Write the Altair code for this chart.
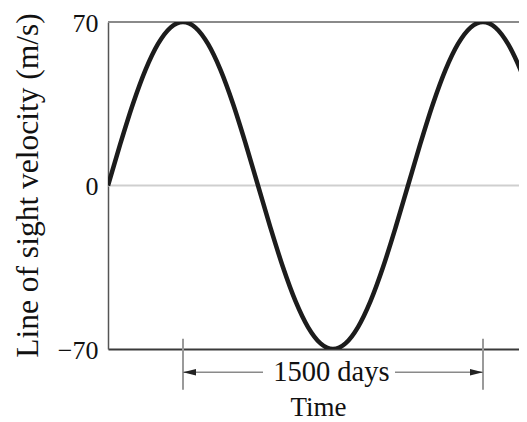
import altair as alt
import pandas as pd

# Curve (days, m/s)
days = [0, 62.5, 125, 187.5, 250, 312.5, 375, 437.5, 500, 562.5, 625, 687.5,
        750, 812.5, 875, 937.5, 1000, 1062.5, 1125, 1187.5, 1250, 1312.5, 1375, 1437.5,
        1500, 1562.5, 1625, 1687.5, 1750, 1812.5, 1875, 1937.5, 2000, 2062.5, 2125]
velocity = [0, 18.1, 35, 49.5, 60.6, 67.6, 70, 67.6, 60.6, 49.5, 35, 18.1,
            0, -18.1, -35, -49.5, -60.6, -67.6, -70, -67.6, -60.6, -49.5, -35, -18.1,
            0, 18.1, 35, 49.5, 60.6, 67.6, 70, 67.6, 60.6, 49.5, 35]

y_ticks = [-70, 0, 70]
x_max = 2055

# Period annotation
marker_days = [375, 1875]
marker_top = -65.6
marker_bottom = -87.4
arrow_level = -80
left_seg = [375, 775]
right_seg = [1435, 1875]
label_text = "1500 days"
label_day = 1117

FONT = "Liberation Serif"

curve = pd.DataFrame({"t": days, "v": velocity})
xs = alt.Scale(domain=[0, x_max], nice=False, zero=False)
ys = alt.Scale(domain=[-70, 70], nice=False)

line = alt.Chart(curve).mark_line(
    color="#1c1c1c", strokeWidth=4.5, interpolate="monotone", clip=True
).encode(
    x=alt.X("t:Q", scale=xs,
            axis=alt.Axis(title="Time", labels=False, ticks=False, grid=False,
                          domainColor="#3a3a3a", domainWidth=2,
                          titleFont=FONT, titleFontSize=27, titleFontWeight="normal",
                          titleColor="#111", titleY=66, titleBaseline="alphabetic",
                          titleX=210)),
    y=alt.Y("v:Q", scale=ys,
            axis=alt.Axis(values=y_ticks, format="d", ticks=False, grid=False,
                          domainColor="#555", domainWidth=1.5,
                          labelFont=FONT, labelFontSize=26, labelColor="#111",
                          labelPadding=10, labelOffset=1,
                          title="Line of sight velocity (m/s)",
                          titleFont=FONT, titleFontSize=31.5, titleFontWeight="normal",
                          titleColor="#111", titleAngle=-90, titleX=-71, titleY=163,
                          titleAlign="center", titleBaseline="alphabetic")),
)

zero_rule = alt.Chart(pd.DataFrame({"v": [0]})).mark_rule(
    color="#cfcfcf", strokeWidth=2
).encode(y=alt.Y("v:Q", scale=ys))

top_rule = alt.Chart(pd.DataFrame({"v": [70]})).mark_rule(
    color="#8a8a8a", strokeWidth=2
).encode(y=alt.Y("v:Q", scale=ys))

ticks_df = pd.DataFrame({"t": marker_days, "y1": [marker_top] * 2, "y2": [marker_bottom] * 2})
dim_ticks = alt.Chart(ticks_df).mark_rule(color="#9a9a9a", strokeWidth=2, clip=False).encode(
    x=alt.X("t:Q", scale=xs), y=alt.Y("y1:Q", scale=ys), y2="y2:Q")

segs_df = pd.DataFrame({"x1": [left_seg[0], right_seg[0]], "x2": [left_seg[1], right_seg[1]],
                        "y": [arrow_level] * 2})
dim_lines = alt.Chart(segs_df).mark_rule(color="#8a8a8a", strokeWidth=1.5, clip=False).encode(
    x=alt.X("x1:Q", scale=xs), x2="x2:Q", y=alt.Y("y:Q", scale=ys))

head_left = alt.Chart(pd.DataFrame({"t": [marker_days[0]], "y": [arrow_level]})).mark_point(
    shape="M0,0 L2,-0.5 L2,0.5 Z", size=169, filled=True, color="#222", opacity=1, clip=False
).encode(x=alt.X("t:Q", scale=xs), y=alt.Y("y:Q", scale=ys))

head_right = alt.Chart(pd.DataFrame({"t": [marker_days[1]], "y": [arrow_level]})).mark_point(
    shape="M0,0 L-2,-0.5 L-2,0.5 Z", size=169, filled=True, color="#222", opacity=1, clip=False
).encode(x=alt.X("t:Q", scale=xs), y=alt.Y("y:Q", scale=ys))

label = alt.Chart(pd.DataFrame({"t": [label_day], "y": [arrow_level], "s": [label_text]})).mark_text(
    font=FONT, fontSize=28.5, color="#111", align="center", baseline="middle", clip=False
).encode(x=alt.X("t:Q", scale=xs), y=alt.Y("y:Q", scale=ys), text="s:N")

chart = alt.layer(
    zero_rule, top_rule, line, dim_ticks, dim_lines, head_left, head_right, label
).properties(
    width=411, height=327,
    autosize=alt.AutoSizeParams(type="none"),
    padding={"left": 100, "top": 14, "right": 0, "bottom": 72},
).configure_view(stroke=None)

chart.save("out.html", embed_options={"renderer": "svg", "actions": False})
